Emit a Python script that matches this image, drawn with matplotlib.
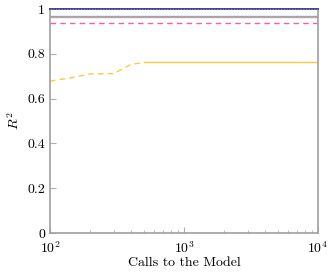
import matplotlib
matplotlib.use('Agg')
import matplotlib.pyplot as plt
from matplotlib.ticker import FixedLocator, LogLocator, NullFormatter

plt.rcParams['font.family'] = 'serif'
plt.rcParams['font.serif'] = ['cmr10']
plt.rcParams['mathtext.fontset'] = 'cm'
plt.rcParams['axes.unicode_minus'] = False

# data
calls_full = [100, 10000]
r2_top = [1.0, 1.0]
r2_blue = [0.969, 0.969]
r2_orange = [0.964, 0.964]
r2_pink = [0.939, 0.939]

calls_warm = [100, 150, 200, 300, 400, 500]
r2_warm = [0.678, 0.695, 0.71, 0.712, 0.752, 0.762]
calls_flat = [500, 10000]
r2_flat = [0.762, 0.762]

yticks = [0, 0.2, 0.4, 0.6, 0.8, 1]
ylabels = ['0', '0.2', '0.4', '0.6', '0.8', '1']

fig = plt.figure(figsize=(3.33, 2.73), dpi=100)
ax = fig.add_axes([0.150, 0.1465, 0.805, 0.8205])

ax.plot(calls_full, r2_pink, color='#f060b0', lw=1.0, ls=(0, (4, 3)))
ax.plot(calls_full, r2_orange, color='#f0a050', lw=1.0)
ax.plot(calls_full, r2_blue, color='#80a8f0', lw=1.0)
ax.plot(calls_warm, r2_warm, color='#ffc840', lw=1.0, ls=(0, (4, 3)))
ax.plot(calls_flat, r2_flat, color='#ffc840', lw=1.0)
ax.plot(calls_full, r2_top, color='#404090', lw=1.4, clip_on=False, zorder=5)
ax.plot(calls_full, r2_top, color='#9090c8', lw=0.8, ls=(0, (1, 1.5)),
        clip_on=False, zorder=6)

ax.set_xscale('log')
ax.set_xlim(100, 10000)
ax.set_ylim(0, 1)
ax.yaxis.set_major_locator(FixedLocator(yticks))
ax.set_yticklabels(ylabels)
ax.set_xticks([100, 1000, 10000])
ax.set_xticklabels(['$10^2$', '$10^3$', '$10^4$'])
ax.xaxis.set_minor_locator(LogLocator(base=10, subs=range(2, 10)))
ax.xaxis.set_minor_formatter(NullFormatter())

for s in ax.spines.values():
    s.set_color('#a0a0a0')
    s.set_linewidth(1.2)
ax.tick_params(which='both', direction='in', color='#b0b0b0', labelsize=10,
               top=False, right=False)
ax.tick_params(which='major', length=4)
ax.tick_params(which='minor', length=2.5)
ax.tick_params(axis='x', pad=5)

ax.set_xlabel('Calls to the Model', fontsize=10, labelpad=1)
ax.set_ylabel('$R^2$', fontsize=10, labelpad=4)

fig.savefig('out.png', dpi=100)
